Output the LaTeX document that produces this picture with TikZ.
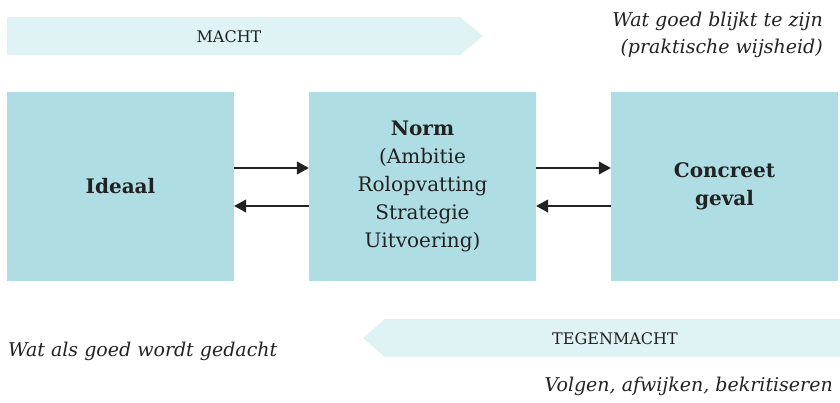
\documentclass[tikz,border=0pt]{standalone}
\usepackage{fontspec}
\setmainfont{DejaVu Serif}
\usetikzlibrary{arrows.meta,positioning}
\definecolor{boxc}{HTML}{AEDDE3}
\definecolor{banc}{HTML}{DFF2F4}
\definecolor{inkc}{HTML}{222222}
\tikzset{
  blockbox/.style={fill=boxc, draw=none, minimum width=227pt, minimum height=189pt, inner sep=0pt, align=center, text=inkc, font=\fontsize{20}{28}\selectfont},
  conn/.style={draw=inkc, line width=1.1pt, -{Triangle[length=12pt,width=13pt]}},
  bantext/.style={text=inkc, font=\fontsize{16}{20}\selectfont, inner sep=0pt},
  note/.style={text=inkc, font=\fontsize{19}{27}\selectfont\itshape, inner sep=0pt}
}
\begin{document}
\begin{tikzpicture}[x=1pt,y=-1pt]
\useasboundingbox (0,0) rectangle (840,402);
% banners
\fill[banc] (7,17) -- (460,17) -- (483,36) -- (460,55) -- (7,55) -- cycle;
\fill[banc] (840,319) -- (385,319) -- (363,338) -- (385,357) -- (840,357) -- cycle;
\node[bantext] (macht) at (229,37) {MACHT};
\node[bantext] (tegen) at (615,339) {TEGENMACHT};
% boxes
\node[blockbox] (ideaal) at (120.5,186.5) {\textbf{Ideaal}};
\node[blockbox] (norm) at (422.5,186.5) {\textbf{Norm}\\(Ambitie\\Rolopvatting\\Strategie\\Uitvoering)};
\node[blockbox] (geval) at (724.5,186.5) {\textbf{Concreet}\\\textbf{geval}};
% connectors
\draw[conn] ([yshift=18.5pt]ideaal.east) -- ([yshift=18.5pt]norm.west);
\draw[conn] ([yshift=-19.5pt]norm.west) -- ([yshift=-19.5pt]ideaal.east);
\draw[conn] ([yshift=18.5pt]norm.east) -- ([yshift=18.5pt]geval.west);
\draw[conn] ([yshift=-19.5pt]geval.west) -- ([yshift=-19.5pt]norm.east);
% notes
\node[note, anchor=north east, align=right] (praktisch) at (823,12) {Wat goed blijkt te zijn\\(praktische wijsheid)};
\node[note, anchor=west] (gedacht) at (8,351) {Wat als goed wordt gedacht};
\node[note, anchor=east] (volgen) at (833,386) {Volgen, afwijken, bekritiseren};
\end{tikzpicture}
\end{document}
